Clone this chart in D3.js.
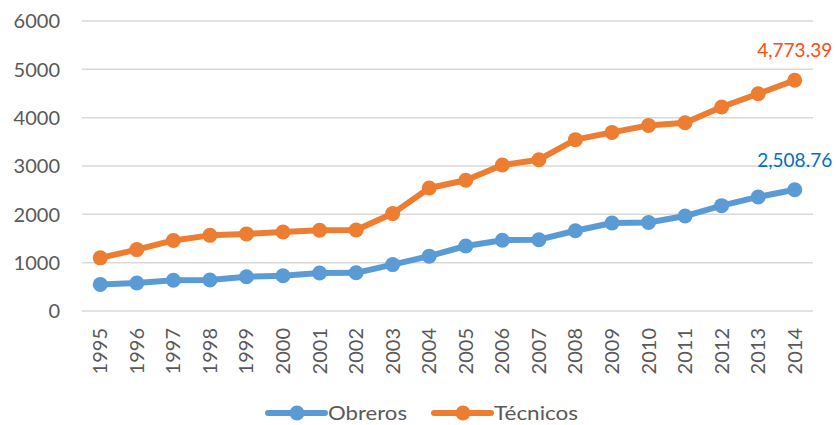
<html>
<head>
<script src="https://d3js.org/d3.v7.min.js"></script>
<style>
	body { margin: 0; background: #fff; }
	text { font-family: Lato, "Open Sans", sans-serif; }
</style>
</head>
<body>
<svg id="chart" width=836 height=425></svg>
<script>
	// data
	var years = ["1995", "1996", "1997", "1998", "1999", "2000", "2001", "2002", "2003", "2004",
		"2005", "2006", "2007", "2008", "2009", "2010", "2011", "2012", "2013", "2014"];
	var obreros = [550, 580, 635, 640, 710, 730, 785, 790, 960, 1135,
		1345, 1465, 1475, 1660, 1820, 1830, 1965, 2180, 2360, 2508.76];
	var tecnicos = [1100, 1270, 1460, 1565, 1595, 1635, 1670, 1675, 2015, 2545,
		2705, 3020, 3130, 3545, 3695, 3840, 3895, 4220, 4495, 4773.39];
	var yTicks = [0, 1000, 2000, 3000, 4000, 5000, 6000];
	var seriesNames = ["Obreros", "Técnicos"];

	var colors = ["#5B9BD5", "#ED7D31"];
	var labelColors = ["#0070C0", "#FF4B14"];

	var svg = d3.select("#chart");
	var plotL = 82, plotR = 813, plotT = 21, plotB = 311;

	var x = d3.scaleBand().domain(years).range([plotL, plotR]);
	var y = d3.scaleLinear().domain([0, 6000]).range([plotB, plotT]);

	// gridlines
	svg.append("g").selectAll("line").data(yTicks).enter().append("line")
		.attr("x1", plotL).attr("x2", plotR)
		.attr("y1", function (d) { return y(d); })
		.attr("y2", function (d) { return y(d); })
		.attr("stroke", "#d9d9d9").attr("stroke-width", 1.5);

	// y axis labels
	svg.append("g").selectAll("text").data(yTicks).enter().append("text")
		.attr("x", 60).attr("y", function (d) { return y(d); })
		.attr("dy", "0.36em")
		.attr("text-anchor", "end")
		.attr("fill", "#595959").style("font-size", "20px")
		.text(function (d) { return d; });

	// x axis labels (rotated)
	svg.append("g").selectAll("text").data(years).enter().append("text")
		.attr("transform", function (d) {
			return "translate(" + (x(d) + x.bandwidth() / 2 + 7) + ",328) rotate(-90)";
		})
		.attr("text-anchor", "end")
		.attr("fill", "#595959").style("font-size", "20px")
		.text(function (d) { return d; });

	var line = d3.line()
		.x(function (d, i) { return x(years[i]) + x.bandwidth() / 2; })
		.y(function (d) { return y(d); });

	[obreros, tecnicos].forEach(function (vals, k) {
		var g = svg.append("g");
		g.append("path").datum(vals)
			.attr("d", line)
			.attr("fill", "none")
			.attr("stroke", colors[k])
			.attr("stroke-width", 6)
			.attr("stroke-linejoin", "round");
		g.selectAll("circle").data(vals).enter().append("circle")
			.attr("cx", function (d, i) { return x(years[i]) + x.bandwidth() / 2; })
			.attr("cy", function (d) { return y(d); })
			.attr("r", 7.5)
			.attr("fill", colors[k]);
		// last value label
		var last = vals[vals.length - 1];
		g.append("text")
			.attr("x", x(years[years.length - 1]) + x.bandwidth() / 2)
			.attr("y", y(last) - 23)
			.attr("text-anchor", "middle")
			.attr("fill", labelColors[k]).style("font-size", "19px")
			.text(d3.format(",.2f")(last));
	});

	// legend
	var legX = [268, 434];
	var legW = [79, 84];
	var legY = 413;
	seriesNames.forEach(function (name, k) {
		var lg = svg.append("g");
		lg.append("line")
			.attr("x1", legX[k]).attr("x2", legX[k] + 57)
			.attr("y1", legY).attr("y2", legY)
			.attr("stroke", colors[k]).attr("stroke-width", 6)
			.attr("stroke-linecap", "round");
		lg.append("circle")
			.attr("cx", legX[k] + 29).attr("cy", legY).attr("r", 7.5)
			.attr("fill", colors[k]);
		lg.append("text")
			.attr("x", legX[k] + 60).attr("y", legY).attr("dy", "0.36em")
			.attr("fill", "#595959").style("font-size", "20px")
			.attr("textLength", legW[k]).attr("lengthAdjust", "spacingAndGlyphs")
			.text(name);
	});
</script>
</body>
</html>
